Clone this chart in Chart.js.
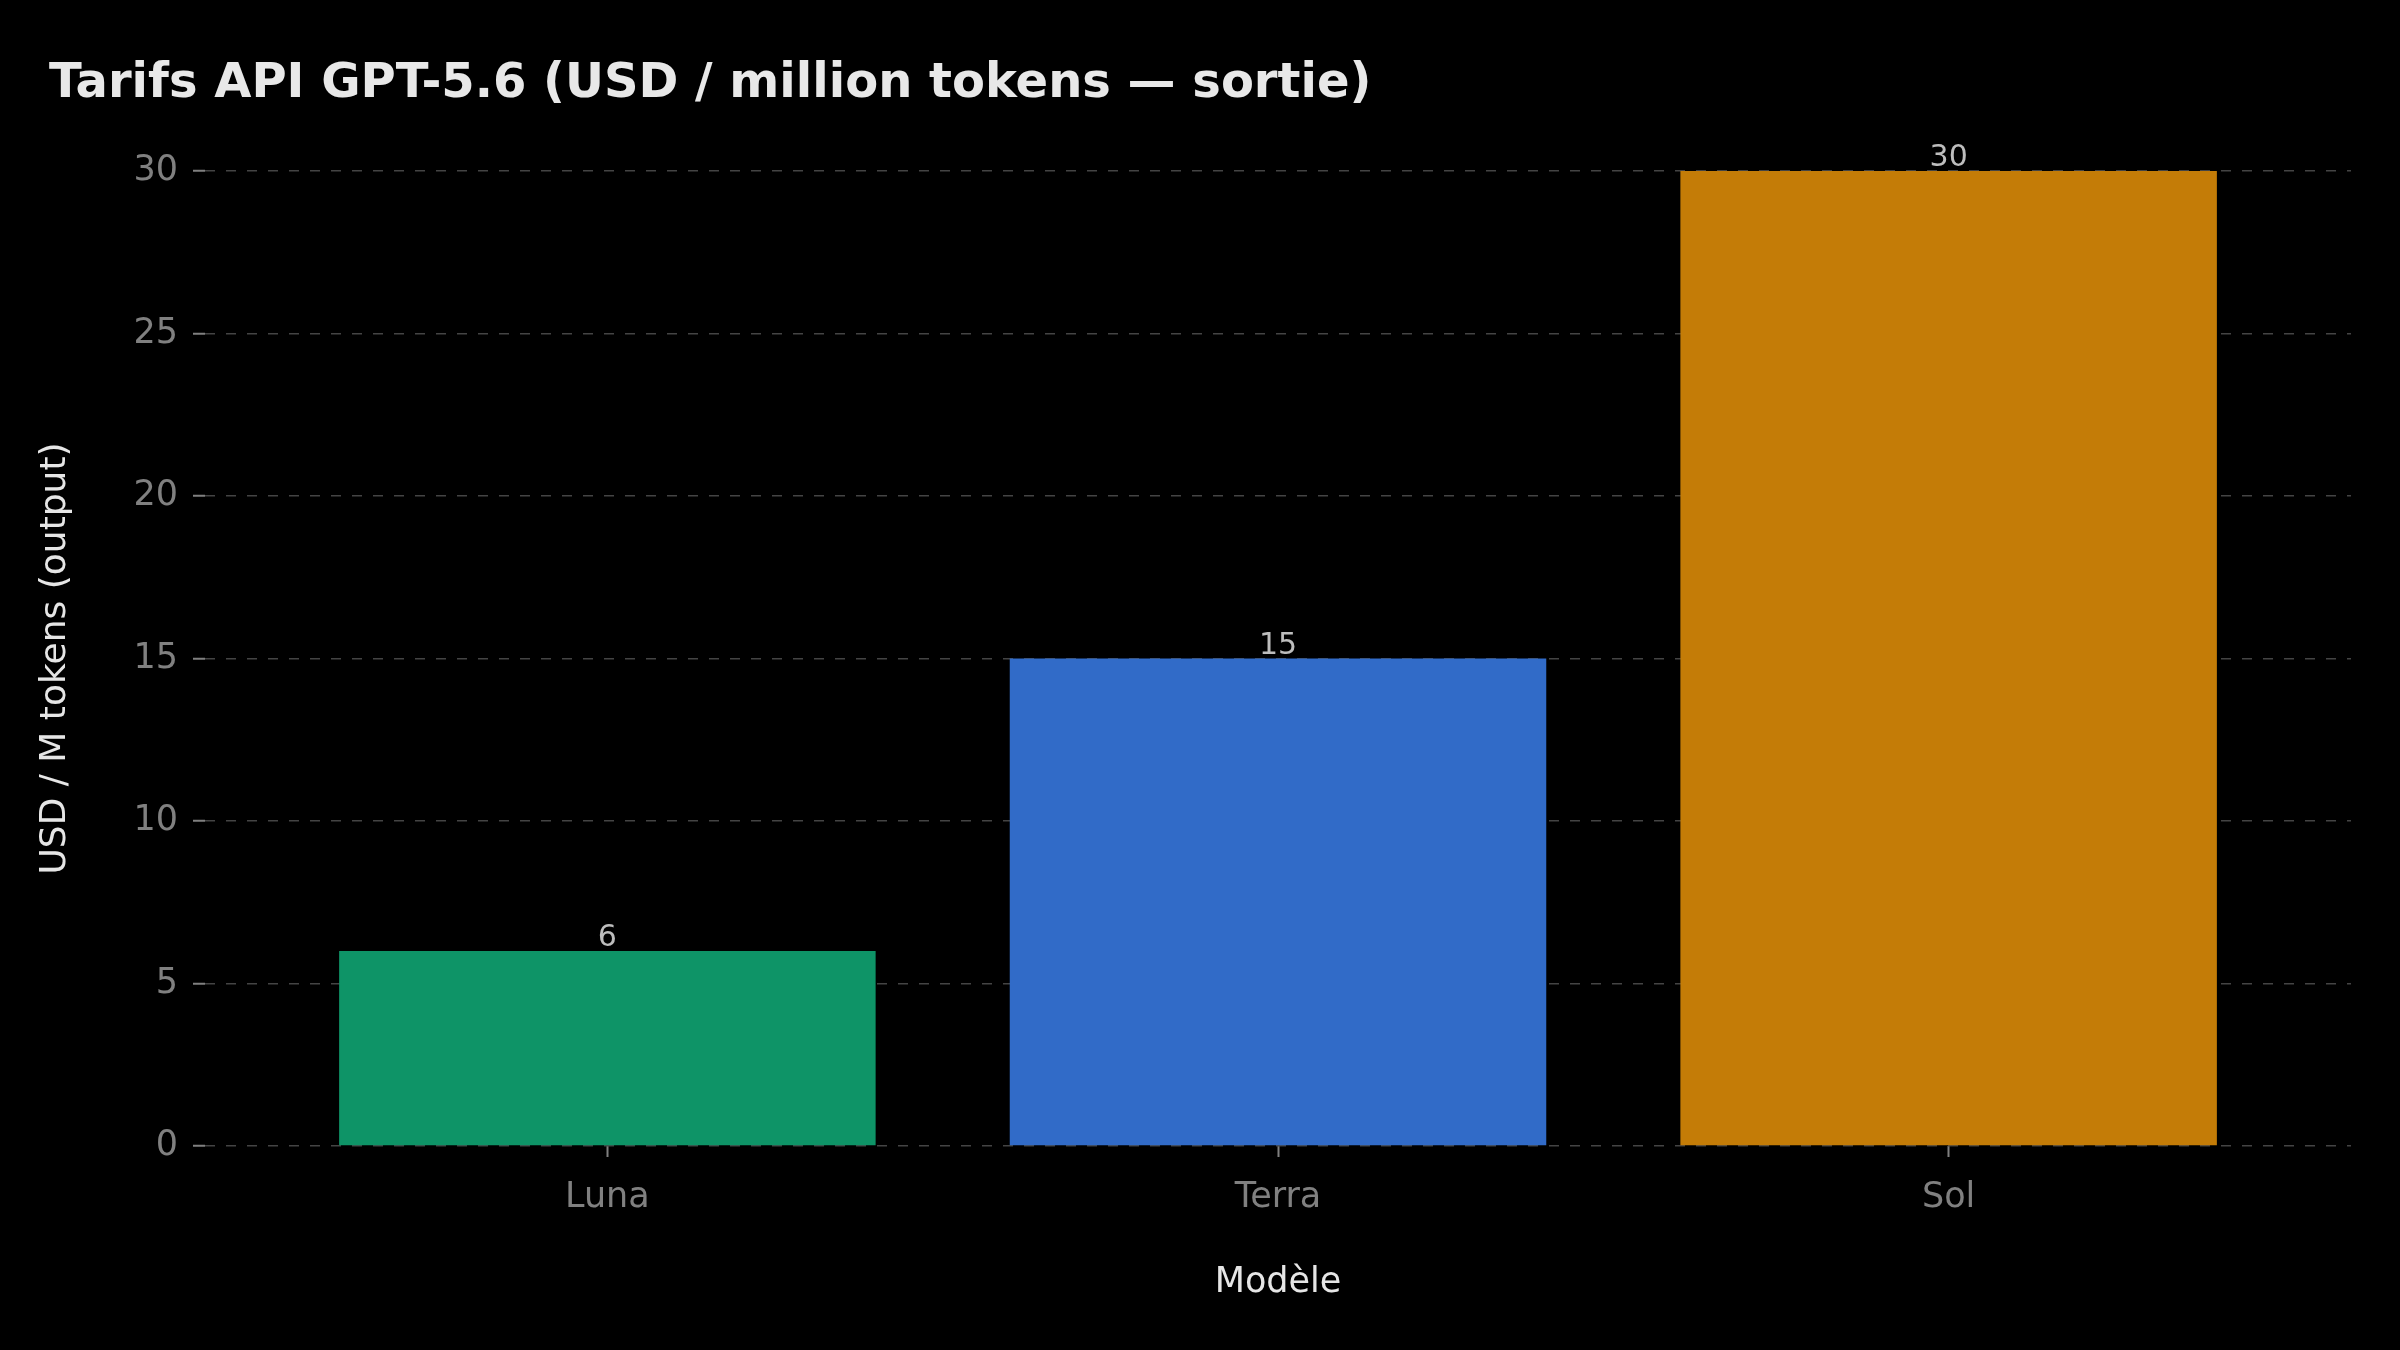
<!DOCTYPE html>
<html lang="fr">
<head>
<meta charset="utf-8">
<title>Tarifs API GPT-5.6</title>
<script src="https://cdn.jsdelivr.net/npm/chart.js@4.4.1/dist/chart.umd.min.js"></script>
<style>
  html, body { margin: 0; padding: 0; background: #000; }
  #wrap { width: 2400px; height: 1350px; }
</style>
</head>
<body>
<div id="wrap"><canvas id="graph" width="2400" height="1350"></canvas></div>
<script>
// données
const models = ["Luna", "Terra", "Sol"];
const prices = [6, 15, 30];
const barColors = ["#0e9467", "#316bc8", "#c47c07"];
const yTicks = [0, 5, 10, 15, 20, 25, 30];

drawChart();
function drawChart() {
  const graphElement = document.getElementById("graph");
  if (!graphElement) {
    return;
  }

  Chart.defaults.font.family = "'DejaVu Sans', sans-serif";

  // valeur au-dessus de chaque barre
  const valueLabels = {
    id: "valueLabels",
    afterDatasetsDraw(chart) {
      const { ctx } = chart;
      const meta = chart.getDatasetMeta(0);
      ctx.save();
      ctx.font = "30px 'DejaVu Sans'";
      ctx.fillStyle = "#bdbdbd";
      ctx.textAlign = "center";
      ctx.textBaseline = "alphabetic";
      meta.data.forEach((bar, i) => {
        ctx.fillText(String(prices[i]), bar.x, bar.y - 5);
      });
      ctx.restore();
    },
  };

  new Chart(graphElement.getContext("2d"), {
    type: "bar",
    data: {
      datasets: [
        {
          label: "USD / M tokens (output)",
          data: prices.map((p, i) => ({ x: i, y: p })),
          backgroundColor: barColors,
          borderWidth: 0,
          barPercentage: 0.8,
          categoryPercentage: 1,
        },
      ],
    },
    options: {
      responsive: false,
      animation: false,
      devicePixelRatio: 1,
      layout: {
        padding: { left: 49, right: 49, top: 0, bottom: 0 },
      },
      scales: {
        x: {
          type: "linear",
          min: -0.6,
          max: 2.6,
          offset: false,
          afterBuildTicks(scale) {
            scale.ticks = models.map((_, i) => ({ value: i }));
          },
          afterFit(scale) {
            scale.height = 204;
          },
          grid: {
            offset: false,
            drawOnChartArea: false,
            drawTicks: true,
            tickLength: 11,
            tickColor: "#808080",
            tickWidth: 2,
          },
          border: { display: false },
          ticks: {
            color: "#808080",
            font: { size: 35 },
            padding: 20,
            maxRotation: 0,
            callback(value) {
              return models[value] ?? "";
            },
          },
          title: {
            display: true,
            text: "Modèle",
            color: "#e6e6e6",
            font: { size: 35 },
            padding: { top: 0, bottom: 46 },
          },
        },
        y: {
          min: 0,
          max: 30,
          afterBuildTicks(scale) {
            scale.ticks = yTicks.map((v) => ({ value: v }));
          },
          afterFit(scale) {
            scale.width = 156;
          },
          grid: {
            color: "#444444",
            lineWidth: 1.5,
            drawTicks: true,
            tickLength: 12,
            tickColor: "#808080",
            tickWidth: 2,
          },
          border: { display: false, dash: [10, 11] },
          ticks: {
            color: "#808080",
            font: { size: 35 },
            padding: 15,
          },
          title: {
            display: true,
            text: "USD / M tokens (output)",
            color: "#e6e6e6",
            font: { size: 36 },
            padding: { top: -14.6, bottom: 0 },
          },
        },
      },
      plugins: {
        legend: { display: false },
        tooltip: { enabled: false },
        title: {
          display: true,
          text: "Tarifs API GPT-5.6 (USD / million tokens — sortie)",
          align: "start",
          color: "#e8e8e8",
          font: { size: 48, weight: "bold" },
          padding: { top: 56, bottom: 57.4 },
        },
      },
    },
    plugins: [valueLabels],
  });
}
</script>
</body>
</html>
